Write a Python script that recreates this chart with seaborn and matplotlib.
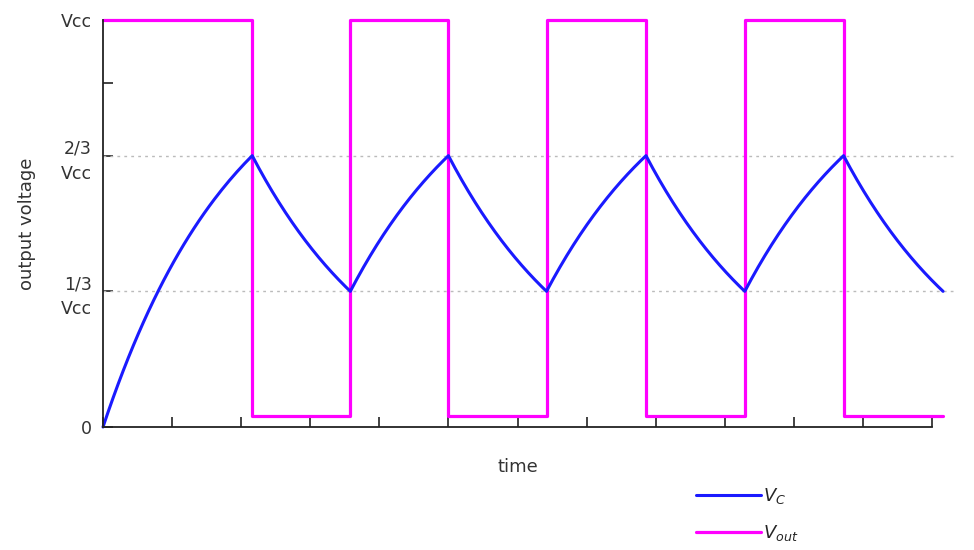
import numpy as np
import pandas as pd
import seaborn as sns
import matplotlib
matplotlib.use("Agg")
import matplotlib.pyplot as plt

# breakpoints of capacitor voltage (time units, fraction of Vcc)
vc_times = [0.0, 2.16, 3.58, 5.0, 6.42, 7.86, 9.29, 10.72, 12.16]
vc_levels = [0.0, 2/3, 1/3, 2/3, 1/3, 2/3, 1/3, 2/3, 1/3]
# output square wave
vout_times = [0.0, 2.16, 2.16, 3.58, 3.58, 5.0, 5.0, 6.42, 6.42, 7.86, 7.86, 9.29, 9.29, 10.72, 10.72, 12.16]
vout_levels = [1.0, 1.0, 0.027, 0.027, 1.0, 1.0, 0.027, 0.027, 1.0, 1.0, 0.027, 0.027, 1.0, 1.0, 0.027, 0.027]
ytick_vals = [0, 1/3, 2/3, 0.845, 1]
ytick_labels = ["0", "1/3\nVᴄᴄ", "2/3\nVᴄᴄ", "", "Vᴄᴄ"]

# RC exponential between breakpoints
ts, vs = [], []
for i in range(len(vc_times) - 1):
    t0, t1 = vc_times[i], vc_times[i + 1]
    v0, v1 = vc_levels[i], vc_levels[i + 1]
    target = 1.0 if v1 > v0 else 0.0
    tau = (t1 - t0) / np.log((target - v0) / (target - v1))
    t = np.linspace(t0, t1, 60)
    ts.append(t); vs.append(target + (v0 - target) * np.exp(-(t - t0) / tau))
df_vc = pd.DataFrame({"t": np.concatenate(ts), "v": np.concatenate(vs)})
df_out = pd.DataFrame({"t": vout_times, "v": vout_levels})

sns.set_style("white")
plt.rcParams['font.family'] = ['DejaVu Sans']
fig = plt.figure(figsize=(9.74, 5.5), dpi=100)
ax = fig.add_axes([103/974, 1-427/550, (932-103)/974, (427-20)/550])

for y in [1/3, 2/3]:
    ax.plot([0, 12.35], [y, y], ls=(0, (2, 3)), color="#bbbbbb", lw=1, clip_on=False, zorder=1)
sns.lineplot(data=df_out, x="t", y="v", ax=ax, color="#ff00ff", lw=2.3, sort=False,
             estimator=None, label="$V_{out}$")
sns.lineplot(data=df_vc, x="t", y="v", ax=ax, color="#1a1aff", lw=2.2, sort=False,
             estimator=None, label="$V_C$")
for ln in ax.lines:
    ln.set_clip_on(False)
ax.get_legend().remove()

ax.set_xlim(0, 12)
ax.set_ylim(0, 1)
ax.set_xticks(np.arange(0, 13, 1))
ax.set_xticklabels([])
ax.set_yticks(ytick_vals)
ax.set_yticklabels(ytick_labels, fontsize=12.5, color="#333333", linespacing=1.5)
ax.tick_params(direction="in", length=7, width=1.2, color="#222222", pad=8,
               bottom=True, left=True)
for s in ["top", "right"]:
    ax.spines[s].set_visible(False)
for s in ["left", "bottom"]:
    ax.spines[s].set_color("#222222"); ax.spines[s].set_linewidth(1.3)
ax.set_xlabel("time", fontsize=13, color="#333333", labelpad=14)
ax.set_ylabel("output voltage", fontsize=13, color="#333333", labelpad=18)

h, l = ax.get_legend_handles_labels()
fig.legend(h[::-1], l[::-1], loc="upper left", bbox_to_anchor=(680/974, 1-470/550),
           frameon=False, handlelength=3.6, handletextpad=0.1, labelspacing=0.95,
           prop={"style": "italic", "size": 13})
fig.savefig("out.png", dpi=100)
